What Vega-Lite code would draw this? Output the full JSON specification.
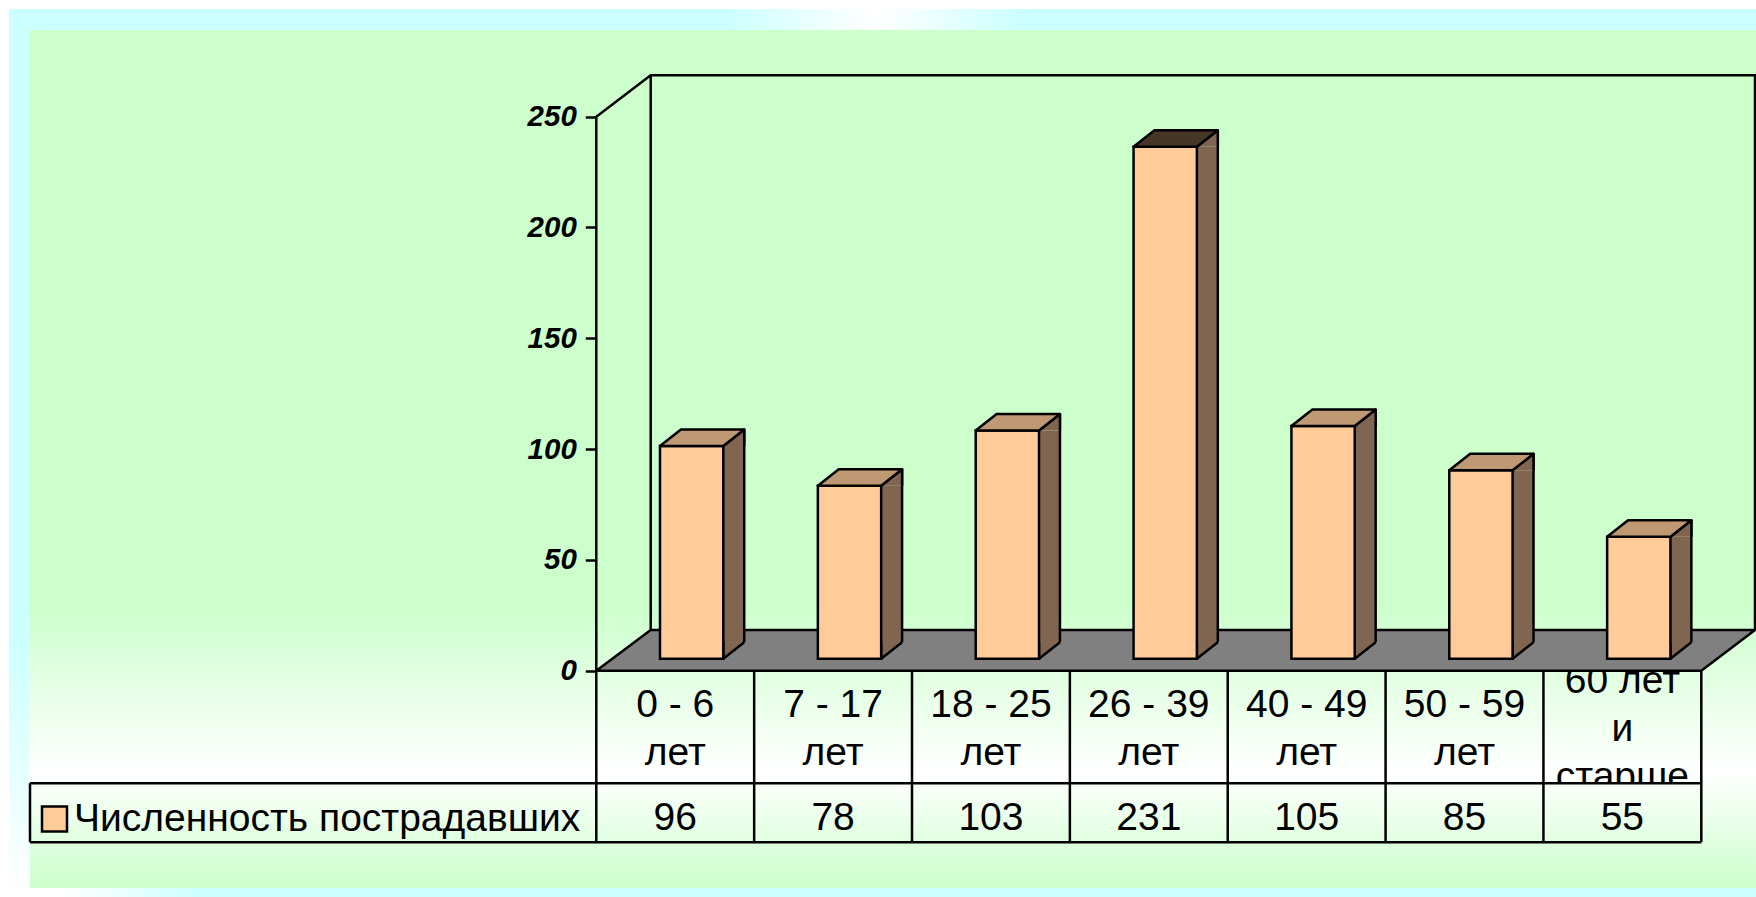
{
"$schema":"https://vega.github.io/schema/vega-lite/v6.json",
"width":1756,"height":897,"padding":0,"autosize":{"type":"none"},"background":"#FFFFFF",
"config":{"view":{"stroke":null},"axisY":{"domain":false,"grid":false,"tickSize":11,"tickWidth":2.5,"tickColor":"#000000","labelPadding":9,"labelFont":"Liberation Sans","labelFontSize":29.5,"labelFontWeight":"bold","labelFontStyle":"italic","labelColor":"#000000","title":null}},
"data":{"values":[
{"category":"0 - 6\nлет","value":96,"series":"Численность пострадавших"},
{"category":"7 - 17\nлет","value":78,"series":"Численность пострадавших"},
{"category":"18 - 25\nлет","value":103,"series":"Численность пострадавших"},
{"category":"26 - 39\nлет","value":231,"series":"Численность пострадавших"},
{"category":"40 - 49\nлет","value":105,"series":"Численность пострадавших"},
{"category":"50 - 59\nлет","value":85,"series":"Численность пострадавших"},
{"category":"60 лет\nи\nстарше","value":55,"series":"Численность пострадавших"}
]},
"encoding":{
"x":{"field":"category","type":"nominal","axis":null,"sort":null,"scale":{"domain":["0 - 6\nлет","7 - 17\nлет","18 - 25\nлет","26 - 39\nлет","40 - 49\nлет","50 - 59\nлет","60 лет\nи\nстарше"],"range":[596.3,1701.3],"paddingInner":0,"paddingOuter":0}},
"y":{"field":"value","type":"quantitative","title":null,"scale":{"domain":[-102.12,302.66],"range":[897,0],"nice":false,"zero":false},
"axis":{"values":[0,50,100,150,200,250],"offset":-596.3,"orient":"left","zindex":1}}
},
"layer":[
{"transform":[{"filter":{"field":"value","equal":96}}],
 "mark":{"type":"point","size":4,"filled":true,"opacity":1,"stroke":null,"fill":"#CCFFFF","shape":"M-666.23 -661.7H1080.77V226.3H-666.23Z"},
 "encoding":{"y":{"datum":0,"title":null,"scale":{"domain":[-102.12,302.66],"range":[897,0],"nice":false,"zero":false},"axis":{"values":[0,50,100,150,200,250],"offset":-596.3,"orient":"left","zindex":1}}}},
{"transform":[{"filter":{"field":"value","equal":96}}],
 "mark":{"type":"point","size":4,"filled":true,"opacity":1,"stroke":null,"fill":{"gradient":"linear","x1":0,"y1":0,"x2":1,"y2":0,"stops":[{"offset":0,"color":"#CCFFFF"},{"offset":0.41,"color":"#CCFFFF"},{"offset":0.495,"color":"#FFFFFF"},{"offset":0.58,"color":"#CCFFFF"},{"offset":1,"color":"#CCFFFF"}]},"shape":"M-666.23 -661.7H1080.77V-640.7H-666.23Z"},
 "encoding":{"y":{"datum":0,"title":null,"scale":{"domain":[-102.12,302.66],"range":[897,0],"nice":false,"zero":false},"axis":{"values":[0,50,100,150,200,250],"offset":-596.3,"orient":"left","zindex":1}}}},
{"transform":[{"filter":{"field":"value","equal":96}}],
 "mark":{"type":"point","size":4,"filled":true,"opacity":1,"stroke":null,"fill":{"gradient":"linear","x1":0,"y1":0,"x2":0,"y2":1,"stops":[{"offset":0,"color":"#CCFFFF"},{"offset":0.7,"color":"#CCFFFF"},{"offset":1,"color":"#FFFFFF"}]},"shape":"M-666.23 -640.7H-645.23V226.3H-666.23Z"},
 "encoding":{"y":{"datum":0,"title":null,"scale":{"domain":[-102.12,302.66],"range":[897,0],"nice":false,"zero":false},"axis":{"values":[0,50,100,150,200,250],"offset":-596.3,"orient":"left","zindex":1}}}},
{"transform":[{"filter":{"field":"value","equal":96}}],
 "mark":{"type":"point","size":4,"filled":true,"opacity":1,"stroke":null,"fill":{"gradient":"linear","x1":0,"y1":0,"x2":1,"y2":0,"stops":[{"offset":0,"color":"#FFFFFF"},{"offset":0.03,"color":"#FFFFFF"},{"offset":0.11,"color":"#CCFFFF"},{"offset":1,"color":"#CCFFFF"}]},"shape":"M-666.23 217.3H1080.77V226.3H-666.23Z"},
 "encoding":{"y":{"datum":0,"title":null,"scale":{"domain":[-102.12,302.66],"range":[897,0],"nice":false,"zero":false},"axis":{"values":[0,50,100,150,200,250],"offset":-596.3,"orient":"left","zindex":1}}}},
{"transform":[{"filter":{"field":"value","equal":96}}],
 "mark":{"type":"point","size":4,"filled":true,"opacity":1,"stroke":null,"fill":{"gradient":"linear","x1":0,"y1":0,"x2":0,"y2":1,"stops":[{"offset":0,"color":"#CCFFCC"},{"offset":0.67,"color":"#CCFFCC"},{"offset":0.865,"color":"#FFFFFF"},{"offset":1,"color":"#CCFFCC"}]},"shape":"M-645.23 -640.7H1080.77V217.3H-645.23Z"},
 "encoding":{"y":{"datum":0,"title":null,"scale":{"domain":[-102.12,302.66],"range":[897,0],"nice":false,"zero":false},"axis":{"values":[0,50,100,150,200,250],"offset":-596.3,"orient":"left","zindex":1}}}},
{"transform":[{"filter":{"field":"value","range":[56,1000]}}],
 "mark":{"type":"text","font":"Liberation Sans","fontSize":39,"lineBreak":"\n","lineHeight":48,"baseline":"alphabetic","align":"center","dy":46,"color":"#000000"},
 "encoding":{"y":{"datum":0,"title":null,"scale":{"domain":[-102.12,302.66],"range":[897,0],"nice":false,"zero":false},"axis":{"values":[0,50,100,150,200,250],"offset":-596.3,"orient":"left","zindex":1}},"text":{"field":"category"}}},
{"transform":[{"filter":{"field":"value","equal":55}}],
 "mark":{"type":"text","font":"Liberation Sans","fontSize":39,"lineBreak":"\n","lineHeight":48,"baseline":"alphabetic","align":"center","dy":22,"color":"#000000"},
 "encoding":{"y":{"datum":0,"title":null,"scale":{"domain":[-102.12,302.66],"range":[897,0],"nice":false,"zero":false},"axis":{"values":[0,50,100,150,200,250],"offset":-596.3,"orient":"left","zindex":1}},"text":{"field":"category"}}},
{"transform":[{"filter":{"field":"value","equal":96}}],
 "mark":{"type":"point","size":4,"filled":true,"opacity":1,"stroke":null,"fill":{"gradient":"linear","x1":0,"y1":0,"x2":0,"y2":1,"stops":[{"offset":0,"color":"#FAFFFA"},{"offset":1,"color":"#E0FFE0"}]},"shape":"M868.21 112.6H1026.07V171.6H868.21Z"},
 "encoding":{"y":{"datum":0,"title":null,"scale":{"domain":[-102.12,302.66],"range":[897,0],"nice":false,"zero":false},"axis":{"values":[0,50,100,150,200,250],"offset":-596.3,"orient":"left","zindex":1}}}},
{"transform":[{"filter":{"field":"value","equal":96}}],
 "mark":{"type":"point","size":4,"filled":true,"opacity":1,"stroke":null,"fill":"#808080","shape":"M-78.93 0H1026.07L1079.77 -40.7H-24.53Z"},
 "encoding":{"y":{"datum":0,"title":null,"scale":{"domain":[-102.12,302.66],"range":[897,0],"nice":false,"zero":false},"axis":{"values":[0,50,100,150,200,250],"offset":-596.3,"orient":"left","zindex":1}}}},
{"transform":[{"filter":{"field":"value","equal":96}}],
 "mark":{"type":"point","size":4,"filled":false,"opacity":1,"stroke":"#000000","strokeWidth":2.5,"strokeJoin":"round","shape":"M-78.93 0V-554L-24.53 -595.4H1080.77M-24.53 -595.4V-40.7H1079.77M1079.77 -595.4V-40.7L1026.07 0H-78.93L-24.53 -40.7M-78.93 0V171.6M78.93 0V171.6M236.78 0V171.6M394.64 0V171.6M552.5 0V171.6M710.35 0V171.6M868.21 0V171.6M1026.07 0V171.6M-645.23 112.6H1026.07M-645.23 171.6H1026.07M-645.23 112.6V171.6"},
 "encoding":{"y":{"datum":0,"title":null,"scale":{"domain":[-102.12,302.66],"range":[897,0],"nice":false,"zero":false},"axis":{"values":[0,50,100,150,200,250],"offset":-596.3,"orient":"left","zindex":1}}}},
{"mark":{"type":"text","font":"Liberation Sans","fontSize":39,"baseline":"alphabetic","align":"center","dy":159,"color":"#000000"},
 "encoding":{"y":{"datum":0,"title":null,"scale":{"domain":[-102.12,302.66],"range":[897,0],"nice":false,"zero":false},"axis":{"values":[0,50,100,150,200,250],"offset":-596.3,"orient":"left","zindex":1}},"text":{"field":"value","type":"nominal"}}},
{"mark":{"type":"bar","orient":"vertical","width":21,"xOffset":58.5,"yOffset":-12,"y2Offset":-28.5,"fill":"#806650","stroke":null},
 "encoding":{"y2":{"datum":0}}},
{"mark":{"type":"point","size":4,"filled":true,"opacity":1,"fill":"#806650","stroke":"#000000","strokeWidth":2.5,"strokeJoin":"round","shape":"M69 -28.5L48.07 -12L48.07 -28.5"},
 "encoding":{"y":{"datum":0,"title":null,"scale":{"domain":[-102.12,302.66],"range":[897,0],"nice":false,"zero":false},"axis":{"values":[0,50,100,150,200,250],"offset":-596.3,"orient":"left","zindex":1}}}},
{"mark":{"type":"bar","orient":"vertical","width":2.5,"xOffset":69,"yOffset":-28.5,"y2Offset":-28.5,"fill":"#000000","stroke":null},
 "encoding":{"y2":{"datum":0}}},
{"mark":{"type":"point","size":4,"filled":true,"opacity":1,"fill":"#806650","stroke":"#000000","strokeWidth":2.5,"strokeJoin":"round","shape":"M48.07 -12L69 -28.5L69 -12"}},
{"mark":{"type":"bar","orient":"vertical","width":63.3,"xOffset":16.42,"yOffset":-12,"y2Offset":-12,"stroke":"#000000","strokeWidth":2.5},
 "encoding":{"y2":{"datum":0},"color":{"field":"series","type":"nominal","scale":{"range":["#FFCC99"]},"legend":{"title":null,"orient":"none","legendX":35,"legendY":801,"padding":0,"symbolType":"square","symbolSize":625,"symbolStrokeColor":"#000000","symbolStrokeWidth":2.5,"symbolOpacity":1,"labelFont":"Liberation Sans","labelFontSize":39,"labelColor":"#000000","labelLimit":700,"labelOffset":0,"clipHeight":36}}}},
{"mark":{"type":"point","size":4,"filled":true,"opacity":1,"stroke":"#000000","strokeWidth":2.5,"strokeJoin":"round","shape":"M-15.23 -12H48.07L69 -28.5H5.7Z"},
 "encoding":{"fill":{"condition":{"test":"datum.value > 200","value":"#463626"},"value":"#BF9973"}}}
]
}
